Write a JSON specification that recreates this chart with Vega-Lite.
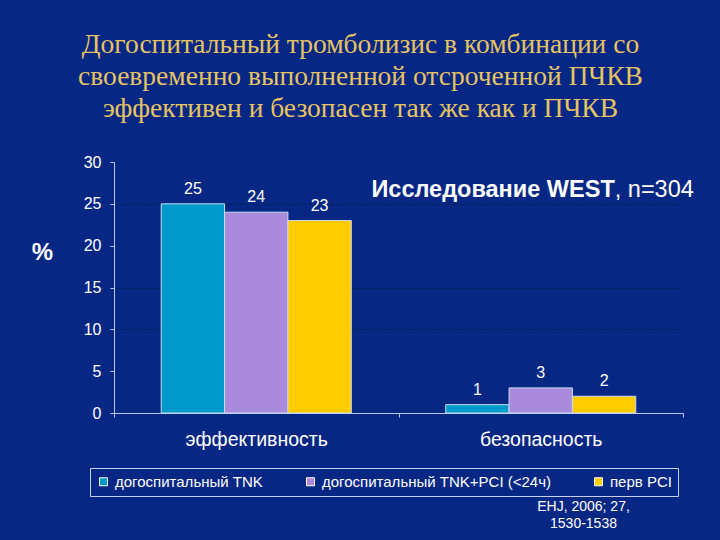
{
  "$schema": "https://vega.github.io/schema/vega-lite/v6.json",
  "width": 569,
  "height": 251,
  "autosize": {"type": "none"},
  "padding": {"left": 114, "top": 162, "right": 37, "bottom": 127},
  "background": "#072784",
  "config": {
    "font": "Liberation Sans",
    "view": {"stroke": null},
    "axis": {"domainColor": "#b8c8f0", "tickColor": "#b8c8f0", "labelColor": "#ffffff", "titleColor": "#ffffff", "labelFont": "Liberation Sans", "titleFont": "Liberation Sans"}
  },
  "title": {
    "text": ["Догоспитальный тромболизис в комбинации со", "своевременно выполненной отсроченной ПЧКВ", "эффективен и безопасен так же как и ПЧКВ"],
    "font": "Liberation Serif",
    "fontSize": 27.5,
    "fontWeight": "normal",
    "color": "#E6C462",
    "lineHeight": 32,
    "anchor": "middle",
    "frame": "group",
    "dx": -38,
    "offset": 32
  },
  "data": {
    "values": [
      {"category": "эффективность", "group": "догоспитальный TNK", "value": 25},
      {"category": "эффективность", "group": "догоспитальный TNK+PCI (<24ч)", "value": 24},
      {"category": "эффективность", "group": "перв PCI", "value": 23},
      {"category": "безопасность", "group": "догоспитальный TNK", "value": 1},
      {"category": "безопасность", "group": "догоспитальный TNK+PCI (<24ч)", "value": 3},
      {"category": "безопасность", "group": "перв PCI", "value": 2}
    ]
  },
  "layer": [
    {
      "mark": {"type": "bar", "stroke": "#c8dcf0", "strokeWidth": 1},
      "encoding": {
        "x": {
          "field": "category", "type": "nominal", "sort": ["эффективность", "безопасность"],
          "scale": {"paddingInner": 0, "paddingOuter": 0},
          "axis": {
            "labelAngle": 0, "labelFontSize": 19.5, "labelPadding": 13, "ticks": true, "tickSize": 4, "tickBand": "extent",
            "title": ["EHJ, 2006; 27,", "1530-1538"], "titleFontSize": 14, "titleFontWeight": "normal",
            "titleX": 469, "titleY": 86, "titleBaseline": "top", "titleAlign": "center", "titleLineHeight": 17
          }
        },
        "xOffset": {
          "field": "group", "type": "nominal",
          "sort": ["догоспитальный TNK", "догоспитальный TNK+PCI (<24ч)", "перв PCI"],
          "scale": {"paddingInner": 0, "paddingOuter": 0.745}
        },
        "y": {
          "field": "value", "type": "quantitative",
          "scale": {"domain": [0, 30]},
          "axis": {
            "values": [0, 5, 10, 15, 20, 25, 30], "labelFontSize": 16, "labelPadding": 9, "tickSize": 4,
            "grid": true, "gridColor": "#061030", "gridDash": [1, 2], "gridWidth": 1,
            "gridOpacity": {"condition": {"test": "datum.value == 25 || datum.value == 15 || datum.value == 10", "value": 0.9}, "value": 0},
            "title": "%", "titleAngle": 0, "titleFontSize": 24, "titleFontWeight": "bold",
            "titleX": -72, "titleY": 90, "titleAlign": "center", "titleBaseline": "middle"
          }
        },
        "color": {
          "field": "group", "type": "nominal",
          "scale": {"domain": ["догоспитальный TNK", "догоспитальный TNK+PCI (<24ч)", "перв PCI"], "range": ["#0099CC", "#A98ADC", "#FFCC00"]},
          "legend": {
            "title": null, "orient": "none", "legendX": -24, "legendY": 306, "direction": "horizontal",
            "symbolType": "square", "symbolSize": 64, "symbolStrokeColor": "#ffffff", "symbolStrokeWidth": 1,
            "labelFontSize": 15, "labelColor": "#ffffff", "labelFont": "Liberation Sans", "labelOffset": 4, "labelLimit": 400,
            "strokeColor": "#c8d0e8", "padding": 6, "columnPadding": 40
          }
        }
      }
    },
    {
      "mark": {"type": "text", "color": "#ffffff", "fontSize": 16, "baseline": "alphabetic", "dy": -10},
      "encoding": {
        "x": {"field": "category", "type": "nominal", "sort": ["эффективность", "безопасность"]},
        "xOffset": {"field": "group", "type": "nominal", "sort": ["догоспитальный TNK", "догоспитальный TNK+PCI (<24ч)", "перв PCI"]},
        "y": {"field": "value", "type": "quantitative"},
        "text": {"field": "value", "type": "quantitative"}
      }
    },
    {
      "data": {"values": [{"label": "Исследование WEST"}]},
      "mark": {"type": "text", "color": "#ffffff", "fontSize": 23.5, "fontWeight": "bold", "align": "right", "baseline": "middle", "dx": 74},
      "encoding": {
        "x": {"datum": "безопасность", "type": "nominal"},
        "y": {"datum": 26.65, "type": "quantitative"},
        "text": {"field": "label", "type": "nominal"}
      }
    },
    {
      "data": {"values": [{"label": ", n=304"}]},
      "mark": {"type": "text", "color": "#ffffff", "fontSize": 23.5, "fontWeight": "normal", "align": "left", "baseline": "middle", "dx": 74},
      "encoding": {
        "x": {"datum": "безопасность", "type": "nominal"},
        "y": {"datum": 26.65, "type": "quantitative"},
        "text": {"field": "label", "type": "nominal"}
      }
    }
  ]
}
